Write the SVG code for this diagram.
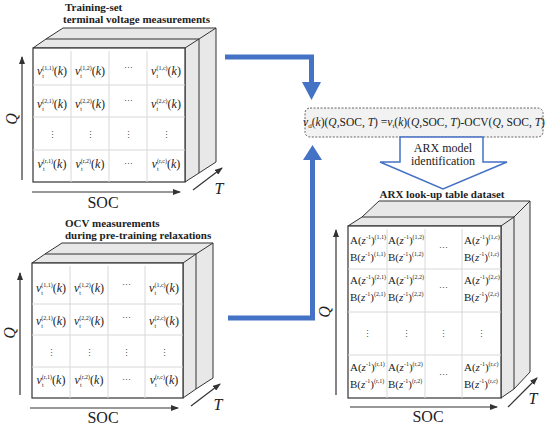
<svg xmlns="http://www.w3.org/2000/svg" width="550" height="426" viewBox="0 0 550 426" font-family="Liberation Serif, Times New Roman, DejaVu Serif, serif">
<defs>
<style>
.face{fill:#e8e8e8;stroke:#333;stroke-width:1;stroke-linejoin:round}
.edge{fill:none;stroke:#333;stroke-width:1}
.front{fill:#fff;stroke:#333;stroke-width:1.2}
.grid{stroke:#d8d8d8;stroke-width:1}
.t{font-family:Liberation Serif, Times New Roman, DejaVu Serif, serif;fill:#222}
.cell{font-size:12px;text-anchor:middle}
.abc{font-size:11px}
.i{font-style:italic}
.sp{font-size:6px}
.dots{font-family:DejaVu Serif, Liberation Serif, serif;font-size:9px;fill:#555;text-anchor:middle}
.title{font-size:11px;font-weight:bold}
.axl{font-size:16px}
.axis{stroke:#333;stroke-width:1.2;fill:none;marker-end:url(#ah)}
.blue{stroke:#4472C4;stroke-width:5;fill:none}
.bhead{fill:#4472C4}
</style>
<marker id="ah" markerWidth="8" markerHeight="6" refX="7" refY="3" orient="auto" markerUnits="userSpaceOnUse">
<path d="M0,0 L8,3 L0,6 Z" fill="#333"/>
</marker>
</defs>
<rect width="550" height="426" fill="#fff"/>

<!-- Training-set cube -->
<g id="cube-training">
<text class="t title" x="65" y="11">Training-set</text>
<text class="t title" x="63" y="23">terminal voltage measurements</text>
<polygon class="face" points="33,48 46,39 63,28 216,28 216,162 199,173 185,182 185,48"/>
<polyline class="edge" points="46,39 199,39 199,173"/>
<polyline class="edge" points="185,48 199,39 216,28"/>
<rect class="front" x="33" y="48" width="152" height="134"/>
<g class="grid">
<line x1="33" y1="85" x2="185" y2="85"/><line x1="33" y1="117" x2="185" y2="117"/><line x1="33" y1="150" x2="185" y2="150"/>
<line x1="71" y1="51" x2="71" y2="182"/><line x1="109" y1="51" x2="109" y2="182"/><line x1="147" y1="51" x2="147" y2="182"/>
</g>
<g class="t cell">
<text x="52" y="75"><tspan class="i">v</tspan><tspan class="sp" dy="2.5">t</tspan><tspan class="sp" dx="-1.7" dy="-8">(1,1)</tspan><tspan dy="5.5">(</tspan><tspan class="i">k</tspan>)</text>
<text x="90" y="75"><tspan class="i">v</tspan><tspan class="sp" dy="2.5">t</tspan><tspan class="sp" dx="-1.7" dy="-8">(1,2)</tspan><tspan dy="5.5">(</tspan><tspan class="i">k</tspan>)</text>
<text x="166" y="75"><tspan class="i">v</tspan><tspan class="sp" dy="2.5">t</tspan><tspan class="sp" dx="-1.7" dy="-8">(1,c)</tspan><tspan dy="5.5">(</tspan><tspan class="i">k</tspan>)</text>
<text x="52" y="108"><tspan class="i">v</tspan><tspan class="sp" dy="2.5">t</tspan><tspan class="sp" dx="-1.7" dy="-8">(2,1)</tspan><tspan dy="5.5">(</tspan><tspan class="i">k</tspan>)</text>
<text x="90" y="108"><tspan class="i">v</tspan><tspan class="sp" dy="2.5">t</tspan><tspan class="sp" dx="-1.7" dy="-8">(2,2)</tspan><tspan dy="5.5">(</tspan><tspan class="i">k</tspan>)</text>
<text x="166" y="108"><tspan class="i">v</tspan><tspan class="sp" dy="2.5">t</tspan><tspan class="sp" dx="-1.7" dy="-8">(2,c)</tspan><tspan dy="5.5">(</tspan><tspan class="i">k</tspan>)</text>
<text x="52" y="168"><tspan class="i">v</tspan><tspan class="sp" dy="2.5">t</tspan><tspan class="sp" dx="-1.7" dy="-8">(r,1)</tspan><tspan dy="5.5">(</tspan><tspan class="i">k</tspan>)</text>
<text x="90" y="168"><tspan class="i">v</tspan><tspan class="sp" dy="2.5">t</tspan><tspan class="sp" dx="-1.7" dy="-8">(r,2)</tspan><tspan dy="5.5">(</tspan><tspan class="i">k</tspan>)</text>
<text x="166" y="168"><tspan class="i">v</tspan><tspan class="sp" dy="2.5">t</tspan><tspan class="sp" dx="-1.7" dy="-8">(r,c)</tspan><tspan dy="5.5">(</tspan><tspan class="i">k</tspan>)</text>
</g>
<g class="dots">
<text x="128" y="71">⋯</text><text x="128" y="104">⋯</text><text x="128" y="167">⋯</text>
<text x="52" y="138">⋮</text><text x="90" y="138">⋮</text><text x="128" y="138">⋮</text><text x="166" y="138">⋮</text>
</g>
<line class="axis" x1="22" y1="180" x2="22" y2="57"/>
<text class="t axl i" transform="translate(17,119) rotate(-90)" text-anchor="middle">Q</text>
<line class="axis" x1="32" y1="192" x2="180" y2="192"/>
<text class="t axl" x="103" y="208" text-anchor="middle">SOC</text>
<line class="axis" x1="193" y1="190" x2="222" y2="168"/>
<text class="t axl i" x="219" y="194" text-anchor="middle">T</text>
</g>

<!-- OCV cube -->
<g id="cube-ocv">
<text class="t title" x="65" y="227">OCV measurements</text>
<text class="t title" x="65" y="239">during pre-training relaxations</text>
<polygon class="face" points="32,263 45,254 62,243 213,243 213,378 196,389 183,398 183,263"/>
<polyline class="edge" points="45,254 196,254 196,389"/>
<polyline class="edge" points="183,263 196,254 213,243"/>
<rect class="front" x="32" y="263" width="151" height="135"/>
<g class="grid">
<line x1="32" y1="304" x2="183" y2="304"/><line x1="32" y1="335" x2="183" y2="335"/><line x1="32" y1="367" x2="183" y2="367"/>
<line x1="70" y1="266" x2="70" y2="398"/><line x1="108" y1="266" x2="108" y2="398"/><line x1="145" y1="266" x2="145" y2="398"/>
</g>
<g class="t cell">
<text x="51" y="292"><tspan class="i">v</tspan><tspan class="sp" dy="2.5">t</tspan><tspan class="sp" dx="-1.7" dy="-8">(1,1)</tspan><tspan dy="5.5">(</tspan><tspan class="i">k</tspan>)</text>
<text x="89" y="292"><tspan class="i">v</tspan><tspan class="sp" dy="2.5">t</tspan><tspan class="sp" dx="-1.7" dy="-8">(1,2)</tspan><tspan dy="5.5">(</tspan><tspan class="i">k</tspan>)</text>
<text x="164" y="292"><tspan class="i">v</tspan><tspan class="sp" dy="2.5">t</tspan><tspan class="sp" dx="-1.7" dy="-8">(1,c)</tspan><tspan dy="5.5">(</tspan><tspan class="i">k</tspan>)</text>
<text x="51" y="325"><tspan class="i">v</tspan><tspan class="sp" dy="2.5">t</tspan><tspan class="sp" dx="-1.7" dy="-8">(2,1)</tspan><tspan dy="5.5">(</tspan><tspan class="i">k</tspan>)</text>
<text x="89" y="325"><tspan class="i">v</tspan><tspan class="sp" dy="2.5">t</tspan><tspan class="sp" dx="-1.7" dy="-8">(2,2)</tspan><tspan dy="5.5">(</tspan><tspan class="i">k</tspan>)</text>
<text x="164" y="325"><tspan class="i">v</tspan><tspan class="sp" dy="2.5">t</tspan><tspan class="sp" dx="-1.7" dy="-8">(2,c)</tspan><tspan dy="5.5">(</tspan><tspan class="i">k</tspan>)</text>
<text x="51" y="384"><tspan class="i">v</tspan><tspan class="sp" dy="2.5">t</tspan><tspan class="sp" dx="-1.7" dy="-8">(r,1)</tspan><tspan dy="5.5">(</tspan><tspan class="i">k</tspan>)</text>
<text x="89" y="384"><tspan class="i">v</tspan><tspan class="sp" dy="2.5">t</tspan><tspan class="sp" dx="-1.7" dy="-8">(r,2)</tspan><tspan dy="5.5">(</tspan><tspan class="i">k</tspan>)</text>
<text x="164" y="384"><tspan class="i">v</tspan><tspan class="sp" dy="2.5">t</tspan><tspan class="sp" dx="-1.7" dy="-8">(r,c)</tspan><tspan dy="5.5">(</tspan><tspan class="i">k</tspan>)</text>
</g>
<g class="dots">
<text x="126.5" y="288">⋯</text><text x="126.5" y="321">⋯</text><text x="126.5" y="383">⋯</text>
<text x="51" y="356">⋮</text><text x="89" y="356">⋮</text><text x="126.5" y="356">⋮</text><text x="164" y="356">⋮</text>
</g>
<line class="axis" x1="20" y1="395" x2="20" y2="273"/>
<text class="t axl i" transform="translate(15,333) rotate(-90)" text-anchor="middle">Q</text>
<line class="axis" x1="30" y1="408" x2="178" y2="408"/>
<text class="t axl" x="103" y="423" text-anchor="middle">SOC</text>
<line class="axis" x1="191" y1="406" x2="220" y2="384"/>
<text class="t axl i" x="218" y="410" text-anchor="middle">T</text>
</g>

<!-- Formula -->
<g id="formula">
<rect x="305" y="108" width="238" height="29" rx="5" fill="#f2f2f2" stroke="#666" stroke-width="1" stroke-dasharray="2,1.5"/>
<text class="t" x="424" y="126" font-size="11.5" text-anchor="middle"><tspan class="i">v</tspan><tspan font-size="7" dy="2">d</tspan><tspan dy="-2">(</tspan><tspan class="i">k</tspan>)(<tspan class="i">Q</tspan>,SOC, <tspan class="i">T</tspan>) =<tspan class="i">v</tspan><tspan font-size="7" dy="2">t</tspan><tspan dy="-2">(</tspan><tspan class="i">k</tspan>)(<tspan class="i">Q</tspan>,SOC, <tspan class="i">T</tspan>)-OCV(<tspan class="i">Q</tspan>, SOC, <tspan class="i">T</tspan>)</text>
</g>

<!-- ARX identification arrow -->
<g id="arx-arrow">
<polygon points="400,137 483,137 483,162 507,162 443,189 380,162 400,162" fill="#fff" stroke="#4472C4" stroke-width="1.5"/>
<text class="t" x="443" y="152" font-size="12" text-anchor="middle">ARX model</text>
<text class="t" x="443" y="165" font-size="12" text-anchor="middle">identification</text>
</g>

<!-- ARX cube -->
<g id="cube-arx">
<text class="t title" x="442" y="198" text-anchor="middle">ARX look-up table dataset</text>
<polygon class="face" points="348,226 362,217 379,201 530,201 530,372 514,389 501,398 501,226"/>
<polyline class="edge" points="362,217 514,217 514,389"/>
<polyline class="edge" points="501,226 514,217 530,201"/>
<rect class="front" x="348" y="226" width="153" height="172"/>
<g class="grid">
<line x1="348" y1="269" x2="501" y2="269"/><line x1="348" y1="312" x2="501" y2="312"/><line x1="348" y1="355" x2="501" y2="355"/>
<line x1="387" y1="229" x2="387" y2="398"/><line x1="425" y1="229" x2="425" y2="398"/><line x1="462" y1="229" x2="462" y2="398"/>
</g>
<g class="t abc">
<text x="350" y="243.5">A(<tspan class="i">z</tspan><tspan class="sp" dy="-5">-1</tspan><tspan dy="5">)</tspan><tspan class="sp" dy="-5">(1,1)</tspan></text>
<text x="350" y="260.5">B(<tspan class="i">z</tspan><tspan class="sp" dy="-5">-1</tspan><tspan dy="5">)</tspan><tspan class="sp" dy="-5">(1,1)</tspan></text>
<text x="388" y="243.5">A(<tspan class="i">z</tspan><tspan class="sp" dy="-5">-1</tspan><tspan dy="5">)</tspan><tspan class="sp" dy="-5">(1,2)</tspan></text>
<text x="388" y="260.5">B(<tspan class="i">z</tspan><tspan class="sp" dy="-5">-1</tspan><tspan dy="5">)</tspan><tspan class="sp" dy="-5">(1,2)</tspan></text>
<text x="464" y="243.5">A(<tspan class="i">z</tspan><tspan class="sp" dy="-5">-1</tspan><tspan dy="5">)</tspan><tspan class="sp" dy="-5">(1,c)</tspan></text>
<text x="464" y="260.5">B(<tspan class="i">z</tspan><tspan class="sp" dy="-5">-1</tspan><tspan dy="5">)</tspan><tspan class="sp" dy="-5">(1,c)</tspan></text>
<text x="350" y="283.5">A(<tspan class="i">z</tspan><tspan class="sp" dy="-5">-1</tspan><tspan dy="5">)</tspan><tspan class="sp" dy="-5">(2,1)</tspan></text>
<text x="350" y="300.5">B(<tspan class="i">z</tspan><tspan class="sp" dy="-5">-1</tspan><tspan dy="5">)</tspan><tspan class="sp" dy="-5">(2,1)</tspan></text>
<text x="388" y="283.5">A(<tspan class="i">z</tspan><tspan class="sp" dy="-5">-1</tspan><tspan dy="5">)</tspan><tspan class="sp" dy="-5">(2,2)</tspan></text>
<text x="388" y="300.5">B(<tspan class="i">z</tspan><tspan class="sp" dy="-5">-1</tspan><tspan dy="5">)</tspan><tspan class="sp" dy="-5">(2,2)</tspan></text>
<text x="464" y="283.5">A(<tspan class="i">z</tspan><tspan class="sp" dy="-5">-1</tspan><tspan dy="5">)</tspan><tspan class="sp" dy="-5">(2,c)</tspan></text>
<text x="464" y="300.5">B(<tspan class="i">z</tspan><tspan class="sp" dy="-5">-1</tspan><tspan dy="5">)</tspan><tspan class="sp" dy="-5">(2,c)</tspan></text>
<text x="350" y="370.5">A(<tspan class="i">z</tspan><tspan class="sp" dy="-5">-1</tspan><tspan dy="5">)</tspan><tspan class="sp" dy="-5">(r,1)</tspan></text>
<text x="350" y="387.5">B(<tspan class="i">z</tspan><tspan class="sp" dy="-5">-1</tspan><tspan dy="5">)</tspan><tspan class="sp" dy="-5">(r,1)</tspan></text>
<text x="388" y="370.5">A(<tspan class="i">z</tspan><tspan class="sp" dy="-5">-1</tspan><tspan dy="5">)</tspan><tspan class="sp" dy="-5">(r,2)</tspan></text>
<text x="388" y="387.5">B(<tspan class="i">z</tspan><tspan class="sp" dy="-5">-1</tspan><tspan dy="5">)</tspan><tspan class="sp" dy="-5">(r,2)</tspan></text>
<text x="464" y="370.5">A(<tspan class="i">z</tspan><tspan class="sp" dy="-5">-1</tspan><tspan dy="5">)</tspan><tspan class="sp" dy="-5">(r,c)</tspan></text>
<text x="464" y="387.5">B(<tspan class="i">z</tspan><tspan class="sp" dy="-5">-1</tspan><tspan dy="5">)</tspan><tspan class="sp" dy="-5">(r,c)</tspan></text>
</g>
<g class="dots">
<text x="443.5" y="251">⋯</text><text x="443.5" y="291">⋯</text><text x="443.5" y="378">⋯</text>
<text x="367.5" y="337">⋮</text><text x="406" y="337">⋮</text><text x="443.5" y="337">⋮</text><text x="481.5" y="337">⋮</text>
</g>
<line class="axis" x1="336" y1="395" x2="336" y2="230"/>
<text class="t axl i" transform="translate(330,312) rotate(-90)" text-anchor="middle">Q</text>
<line class="axis" x1="350" y1="407" x2="497" y2="407"/>
<text class="t axl" x="428" y="422" text-anchor="middle">SOC</text>
<line class="axis" x1="508" y1="407" x2="537" y2="378"/>
<text class="t axl i" x="533" y="404" text-anchor="middle">T</text>
</g>

<!-- Connectors -->
<g id="connectors">
<polyline class="blue" points="225,57 311.5,57 311.5,84"/>
<polygon class="bhead" points="302,82 321,82 311.5,100"/>
<polyline class="blue" points="228,318 312.5,318 312.5,158"/>
<polygon class="bhead" points="303,160 322,160 312.5,145"/>
</g>
</svg>
